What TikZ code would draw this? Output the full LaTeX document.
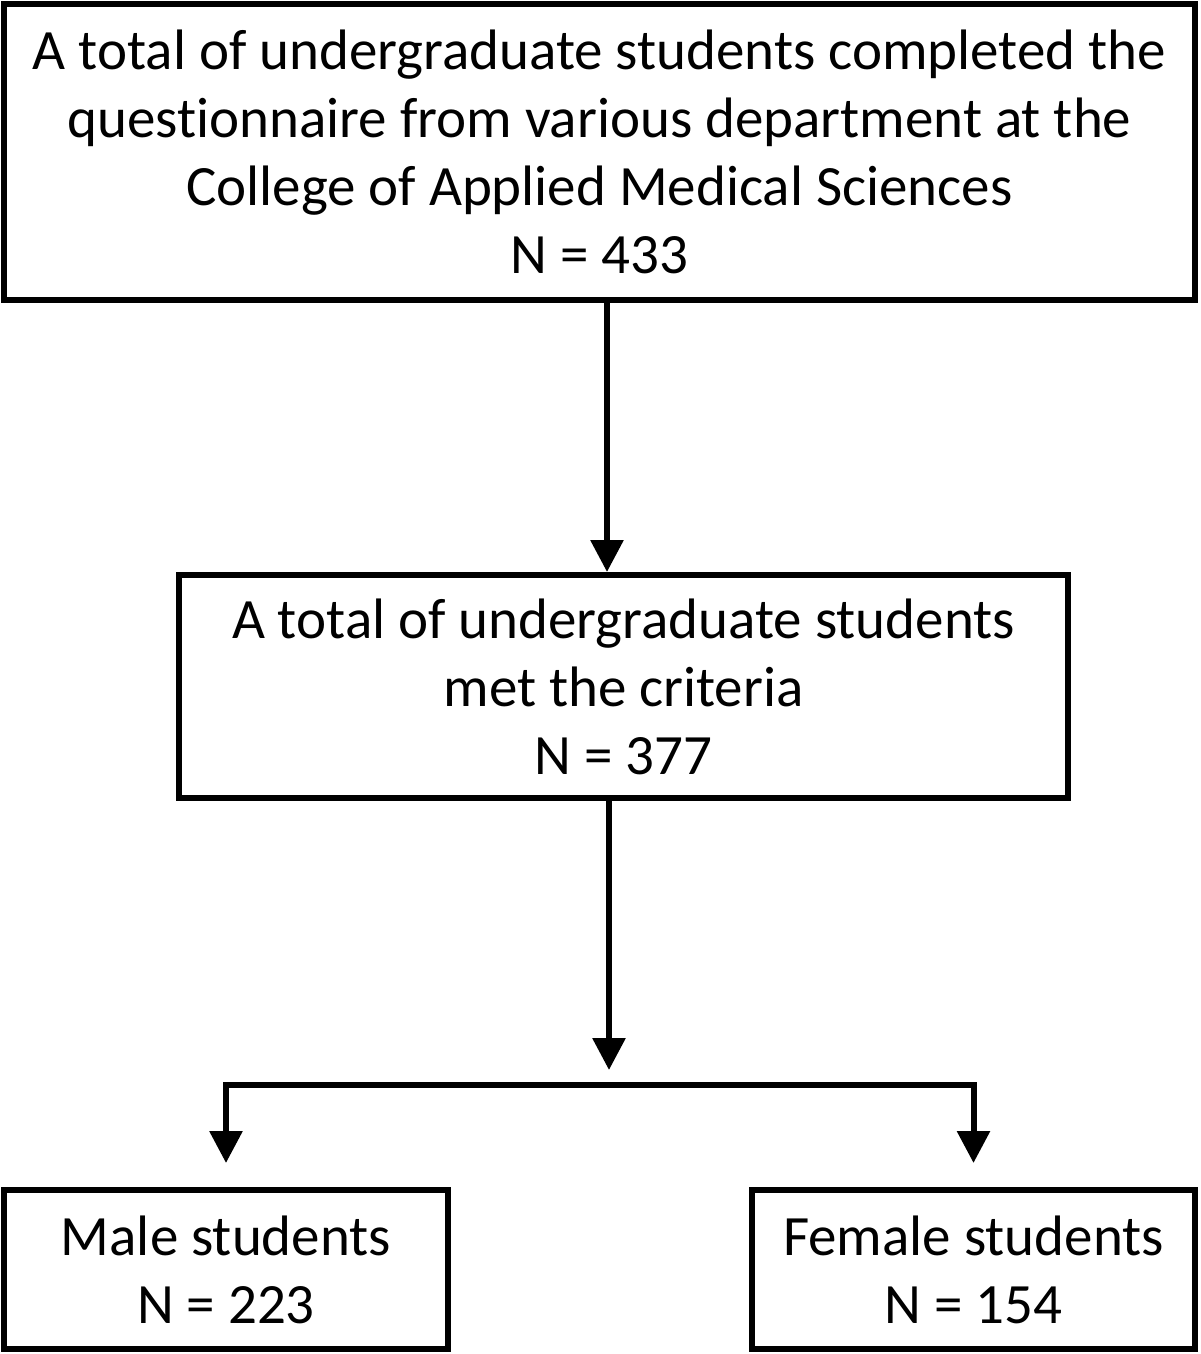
\documentclass[tikz,border=0pt]{standalone}
\usepackage{fontspec}
\setmainfont{Carlito}[Ligatures=NoCommon]
\usetikzlibrary{arrows.meta,positioning}

\begin{document}
\begin{tikzpicture}[x=0.5pt, y=-0.5pt, >={Triangle[width=16pt,length=16pt]},
                    line width=3pt]
  \tikzstyle{every node}=[font=\fontsize{28.5}{34}\selectfont]
  \tikzstyle{box}=[draw=black, rectangle, align=center, inner sep=0pt]

  \useasboundingbox (0,0) rectangle (1200,1354);

	\node[box, minimum width=595.5pt, minimum height=148pt]	(total)	at (599.5,152)
		{A total of undergraduate students completed the\\questionnaire from various department at the\\College of Applied Medical Sciences\\N = 433};
	\node[box, minimum width=444.5pt, minimum height=111.5pt]	(criteria)	at (623.5,686.5)
		{A total of undergraduate students\\met the criteria\\N = 377};
	\node[box, minimum width=222pt, minimum height=79.5pt]	(male)	at (226,1269.5)
		{Male students\\N = 223};
	\node[box, minimum width=221.5pt, minimum height=79.5pt]	(female)	at (973.5,1269.5)
		{Female students\\N = 154};

	\coordinate (axis)	at (607,0);
	\coordinate (forktip)	at (609,1070);
	\coordinate (fork)	at (609,1085);

	\draw[->] (total.south -| axis) -- (criteria.north -| axis);
	\draw[->] (criteria.south -| forktip) -- (forktip);
	\draw[->, shorten >=12pt] (fork) -| (male.north);
	\draw[->, shorten >=12pt] (fork) -| (female.north);

\end{tikzpicture}
\end{document}
